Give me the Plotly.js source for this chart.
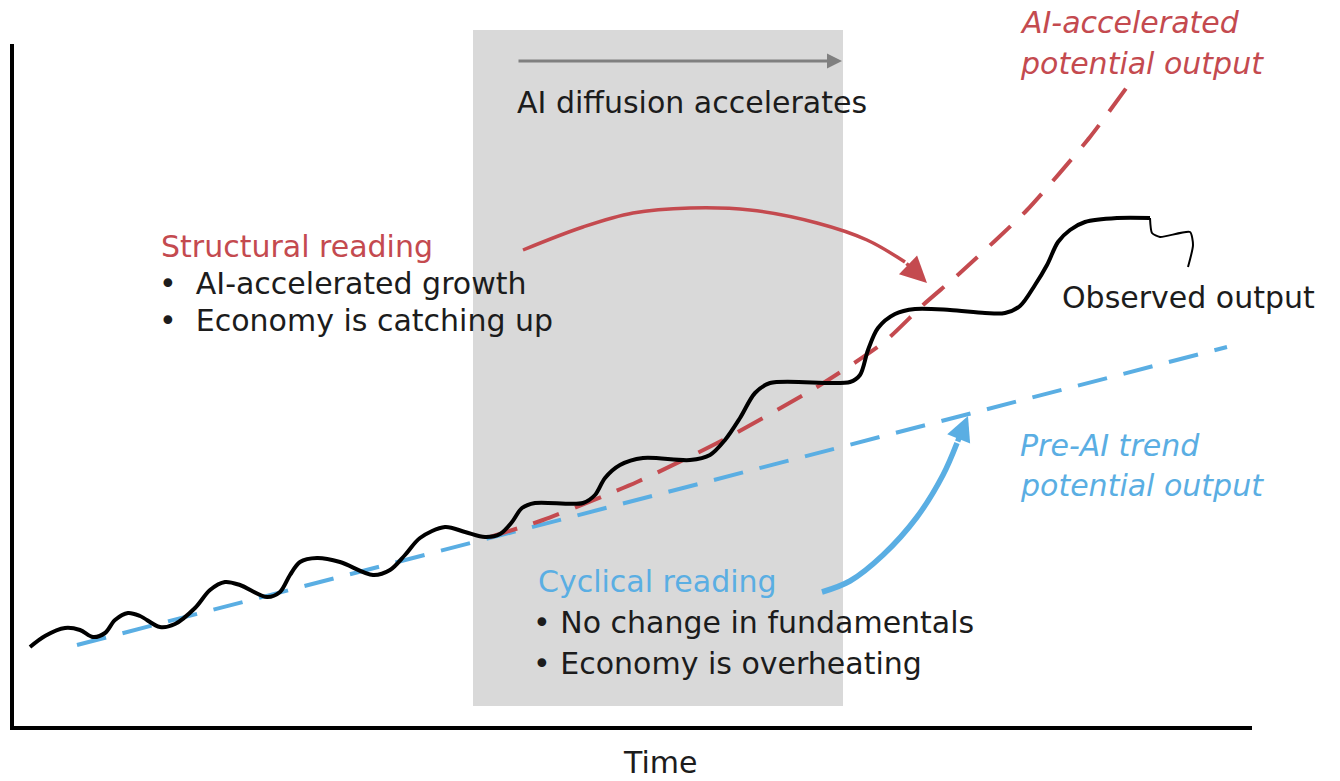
<!DOCTYPE html>
<html>
<head>
<meta charset="utf-8">
<script src="https://cdn.plot.ly/plotly-3.0.1.min.js"></script>
<style>html,body{margin:0;padding:0;background:#ffffff;}</style>
</head>
<body>
<div id="chart" style="width:1340px;height:781px"></div>
<script>
// ---- Conceptual data (arbitrary units: time, output) ----
const observedTime = [1.8,3.3,5.3,6.8,8.1,9.3,10.3,11.6,12.8,14.8,16.3,18.3,19.8,21.3,22.8,25.5,26.8,27.8,28.8,30.5,32.8,36.1,37.8,39.3,40.8,43.3,45.3,47.3,48.8,50.0,51.0,52.3,57.1,58.3,59.3,60.8,63.1,67.8,69.8,71.3,72.8,74.3,75.8,83.8,84.8,85.6,86.6,88.3,90.3,93.8,97.3,99.3,100.8,102.3,103.5,104.6,105.8,107.3,110.5,113.8];
const observedOutput = [8.1,9.2,10.0,9.8,9.1,9.5,10.8,11.5,11.2,10.1,10.4,12.0,13.8,14.6,14.3,13.1,13.6,15.3,16.6,17.0,16.6,15.3,15.8,17.3,19.0,20.1,19.6,19.1,19.4,20.6,22.0,22.5,22.5,23.3,25.0,26.3,27.0,26.8,27.3,28.8,31.0,33.5,34.5,34.6,35.3,37.8,40.0,41.4,41.9,41.8,41.5,41.5,42.2,44.3,46.3,48.6,49.8,50.6,51.0,51.0];
const observedTailTime = [113.8,114.0,114.8,117.8,118.1,117.6];
const observedTailOutput = [51.0,49.5,49.1,49.6,48.3,46.1];

const preAITrendTime = [6.5,121.5];
const preAITrendOutput = [8.3,38.1];

const aiPotentialTime = [47.8,53.1,62.5,71.1,80.5,87.1,91.1,94.8,101.5,107.8,111.5];
const aiPotentialOutput = [19.1,20.8,24.6,28.8,34.1,38.5,42.3,45.5,51.8,59.1,64.1];

const diffusionWindow = [46.1,83.1];          // shaded AI diffusion period
const diffusionArrowTime = [50.5,83.0];       // "AI diffusion accelerates" arrow
const diffusionArrowLevel = 66.7;

const structuralArcTime = [51.1,57.1,62.1,67.8,73.8,80.5,85.5,89.3];
const structuralArcOutput = [47.8,50.1,51.5,52.0,51.8,50.5,48.8,46.6];
const structuralArcTip = [91.5,44.5];

const cyclicalArcTime = [81.0,83.8,87.1,90.5,93.1,94.5];
const cyclicalArcOutput = [13.6,14.7,17.3,21.1,25.3,28.5];
const cyclicalArcTip = [95.6,31.2];

// ---- Styles ----
const RED = '#c44a4f';
const BLUE = '#5aaee3';
const TXT = '#1c1c1c';
const FONT = 'DejaVu Sans, Liberation Sans, Arial, sans-serif';
const FS = 30;
const NB = '\u00a0';

const traces = [
  {x: structuralArcTime, y: structuralArcOutput, mode: 'lines', line: {color: RED, width: 3.5, shape: 'spline'}, hoverinfo: 'skip', showlegend: false},
  {x: cyclicalArcTime, y: cyclicalArcOutput, mode: 'lines', line: {color: BLUE, width: 5.5, shape: 'spline'}, hoverinfo: 'skip', showlegend: false},
  {name: 'Pre-AI trend potential output', x: preAITrendTime, y: preAITrendOutput, mode: 'lines', line: {color: BLUE, width: 4, dash: '30px,17px'}, showlegend: false},
  {name: 'AI-accelerated potential output', x: aiPotentialTime, y: aiPotentialOutput, mode: 'lines', line: {color: RED, width: 4, dash: '28px,17px', shape: 'spline', smoothing: 0.6}, showlegend: false},
  {name: 'Observed output', x: observedTime, y: observedOutput, mode: 'lines', line: {color: '#000000', width: 4, shape: 'spline', smoothing: 0.9}, showlegend: false},
  {x: observedTailTime, y: observedTailOutput, mode: 'lines', line: {color: '#000000', width: 2, shape: 'spline', smoothing: 0.6}, hoverinfo: 'skip', showlegend: false}
];

function label(text, x, y, color, opts) {
  return Object.assign({
    text: text, x: x, y: y, xref: 'x', yref: 'y', xanchor: 'left', yanchor: 'middle',
    showarrow: false, align: 'left', font: {family: FONT, size: FS, color: color}
  }, opts || {});
}

const annotations = [
  // arrows
  {x: diffusionArrowTime[1], y: diffusionArrowLevel, ax: diffusionArrowTime[0], ay: diffusionArrowLevel,
   xref: 'x', yref: 'y', axref: 'x', ayref: 'y', text: '', showarrow: true,
   arrowhead: 2, arrowsize: 1.0, arrowwidth: 3, arrowcolor: '#808080'},
  {x: structuralArcTip[0], y: structuralArcTip[1], ax: structuralArcTime[structuralArcTime.length-1], ay: structuralArcOutput[structuralArcOutput.length-1],
   xref: 'x', yref: 'y', axref: 'x', ayref: 'y', text: '', showarrow: true,
   arrowhead: 2, arrowsize: 1.5, arrowwidth: 3.5, arrowcolor: RED},
  {x: cyclicalArcTip[0], y: cyclicalArcTip[1], ax: cyclicalArcTime[cyclicalArcTime.length-1], ay: cyclicalArcOutput[cyclicalArcOutput.length-1],
   xref: 'x', yref: 'y', axref: 'x', ayref: 'y', text: '', showarrow: true,
   arrowhead: 2, arrowsize: 0.9, arrowwidth: 5.5, arrowcolor: BLUE},
  // texts
  label('AI diffusion accelerates', 50.3, 62.6, TXT),
  label('Structural reading', 14.7, 48.2, RED),
  label('•' + NB + NB + 'AI-accelerated growth', 14.5, 44.5, TXT),
  label('•' + NB + NB + 'Economy is catching up', 14.5, 40.8, TXT),
  label('Cyclical reading', 52.4, 14.7, BLUE),
  label('•' + NB + 'No change in fundamentals', 51.9, 10.6, TXT),
  label('•' + NB + 'Economy is overheating', 51.9, 6.5, TXT),
  label('Observed output', 104.8, 43.1, TXT),
  label('<i>Pre-AI trend</i>', 100.6, 28.3, BLUE),
  label('<i>potential output</i>', 100.6, 24.3, BLUE),
  label('<i>AI-accelerated</i>', 0.811, 1.0315, RED, {xref: 'paper', yref: 'paper'}),
  label('<i>potential output</i>', 0.811, 0.972, RED, {xref: 'paper', yref: 'paper'}),
  label('Time', 0.5218, -0.0806, TXT, {xref: 'paper', yref: 'paper', xanchor: 'center', yanchor: 'bottom', borderpad: 0})
];

const layout = {
  width: 1340, height: 781,
  margin: {l: 14, r: 88, t: 44, b: 55, pad: 0},
  paper_bgcolor: '#ffffff', plot_bgcolor: 'rgba(0,0,0,0)',
  showlegend: false,
  xaxis: {range: [0.2, 124], showgrid: false, zeroline: false, showticklabels: false, ticks: '',
          showline: true, linecolor: '#000000', linewidth: 4, fixedrange: true},
  yaxis: {range: [0.2, 68.4], showgrid: false, zeroline: false, showticklabels: false, ticks: '',
          showline: true, linecolor: '#000000', linewidth: 4, fixedrange: true},
  shapes: [
    {type: 'rect', xref: 'x', yref: 'paper', x0: diffusionWindow[0], x1: diffusionWindow[1], y0: 0.0293, y1: 1.0205,
     fillcolor: '#d9d9d9', line: {width: 0}, layer: 'below'}
  ],
  annotations: annotations
};

Plotly.newPlot('chart', traces, layout, {displayModeBar: false, staticPlot: true});
</script>
</body>
</html>
